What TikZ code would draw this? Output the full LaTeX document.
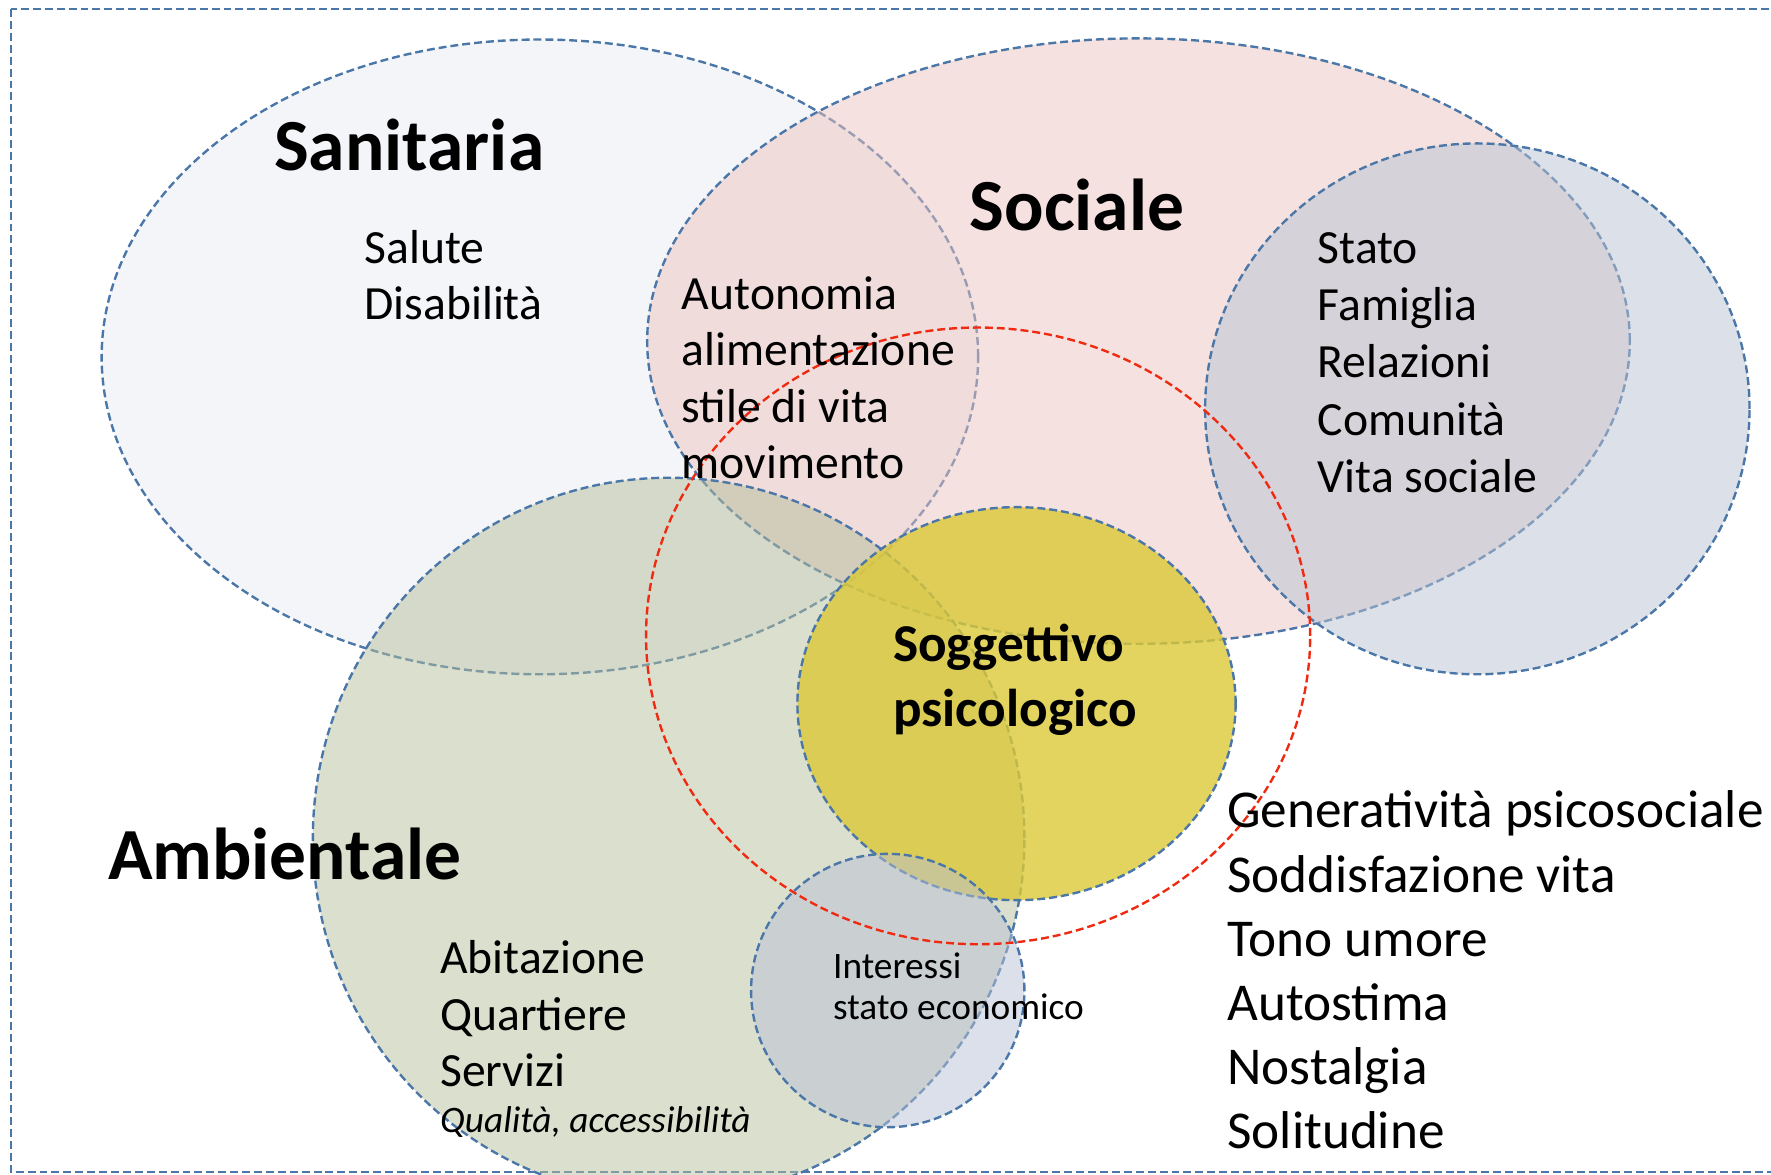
\documentclass[tikz,border=0pt]{standalone}
\usepackage{fontspec}
\setmainfont{Carlito}
\usepackage{tikz}
\definecolor{bordo}{HTML}{4A76A8}
\definecolor{rosso}{HTML}{F02A10}
\definecolor{sanit}{HTML}{E9EBF1}
\definecolor{socia}{HTML}{EBC3BF}
\definecolor{relaz}{HTML}{B9C3D3}
\definecolor{ambie}{HTML}{B7BF9D}
\definecolor{sogge}{HTML}{DBC936}
\definecolor{inter}{HTML}{B9C1D5}

\begin{document}
\begin{tikzpicture}[x=0.01cm, y=0.01cm,
    area/.style={draw=bordo, line width=0.6pt, dash pattern=on 2pt off 1pt, fill opacity=0.5},
    title/.style={anchor=base west, inner sep=0pt, font=\fontsize{18.5}{22}\selectfont\bfseries},
    item/.style={anchor=base west, inner sep=0pt, font=\fontsize{12}{14}\selectfont},
    big/.style={anchor=base west, inner sep=0pt, font=\fontsize{13.4}{16}\selectfont},
    small/.style={anchor=base west, inner sep=0pt, font=\fontsize{9.4}{11}\selectfont}]

    \useasboundingbox (0,0) rectangle (1568,-1040);
    \draw[bordo, line width=0.5pt, dash pattern=on 2pt off 1pt] (10,-8) rectangle (1620,-1038);

    % aree
    \draw[area, fill=sanit] (478,-316) ellipse [x radius=388, y radius=281];
    \draw[area, fill=socia] (1008,-302) ellipse [x radius=435, y radius=268];
    \draw[area, fill=relaz] (1308,-362) ellipse [x radius=241, y radius=235];
    \draw[area, fill=ambie] (592,-742) ellipse [x radius=315, y radius=319];
    \draw[area, fill=sogge, fill opacity=0.8] (900,-623) ellipse [x radius=194, y radius=174];
    \draw[area, fill=inter] (786,-877) ellipse [x radius=121, y radius=121];
    \draw[rosso, line width=0.6pt, dash pattern=on 2pt off 1pt] (866,-563) ellipse [x radius=294, y radius=273];

    % titoli
    \node[title] (sanitaria) at (242,-151) {Sanitaria};
    \node[title] (sociale) at (858,-204) {Sociale};
    \node[title] (ambientale) at (95,-779) {Ambientale};

    % voci
    \node[item] (salute) at (322,-233) {Salute};
    \node[item] (disab) at (322,-283) {Disabilità};

    \foreach \voce [count=\i] in {Autonomia, alimentazione, stile di vita, movimento}
        \node[item] (auto\i) at (603,{-274-50*(\i-1)}) {\voce};

    \foreach \voce [count=\i] in {Stato, Famiglia, Relazioni, Comunità, Vita sociale}
        \node[item] (stato\i) at (1166,{-233-50.75*(\i-1)}) {\voce};

    \foreach \voce [count=\i] in {Abitazione, Quartiere, Servizi}
        \node[item] (abit\i) at (389,{-862-50*(\i-1)}) {\voce};
    \node[small, font=\fontsize{9.4}{11}\selectfont\itshape] (qualita) at (389,-1003) {Qualità, accessibilità};

    \node[small] (interessi) at (737,-866) {Interessi};
    \node[small] (economico) at (737,-903) {stato economico};

    \node[big, font=\fontsize{13.4}{16}\selectfont\bfseries] (soggettivo) at (790,-586) {Soggettivo};
    \node[big, font=\fontsize{13.4}{16}\selectfont\bfseries] (psicologico) at (790,-643) {psicologico};

    \foreach \voce [count=\i] in {Generatività psicosociale, Soddisfazione vita, Tono umore, Autostima, Nostalgia, Solitudine}
        \node[big] (psi\i) at (1086,{-733-56.8*(\i-1)}) {\voce};
\end{tikzpicture}
\end{document}
